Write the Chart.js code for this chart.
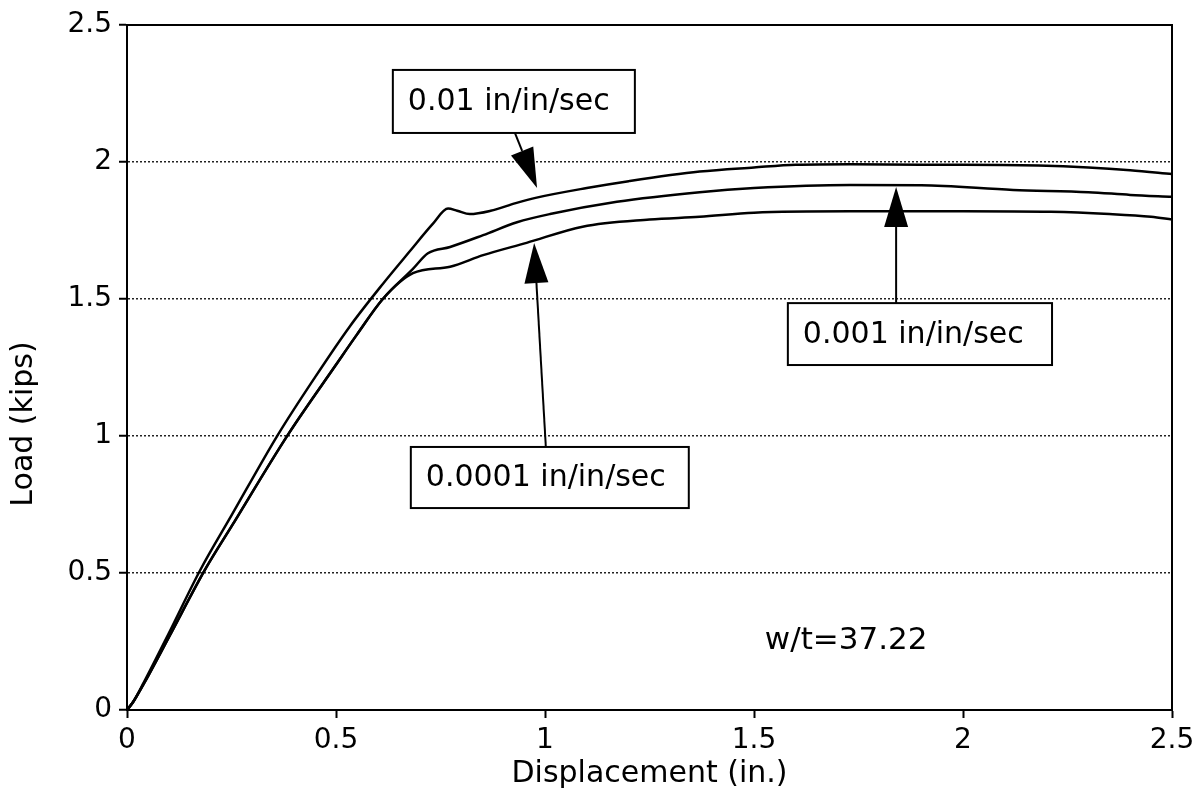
<!DOCTYPE html>
<html>
<head>
<meta charset="utf-8">
<script src="https://cdn.jsdelivr.net/npm/chart.js@4.4.0/dist/chart.umd.min.js"></script>
<style>
  html, body { margin: 0; padding: 0; background: #fff; }
  #wrap { width: 1204px; height: 802px; }
</style>
</head>
<body>
<div id="wrap"><canvas id="chart" width="1204" height="802"></canvas></div>
<script>
// strain rate 0.01 in/in/sec
const dispFast = [0, 0.015, 0.04, 0.1, 0.175, 0.25, 0.362, 0.45, 0.533, 0.612, 0.677, 0.732, 0.768, 0.79, 0.82, 0.87, 0.93, 0.98, 1.1, 1.2, 1.37, 1.5, 1.6, 1.73, 1.9, 2.0, 2.18, 2.3, 2.4, 2.5];
const loadFast = [0, 0.03, 0.1, 0.28, 0.51, 0.71, 1.007, 1.215, 1.40, 1.555, 1.675, 1.775, 1.83, 1.822, 1.81, 1.822, 1.85, 1.87, 1.905, 1.93, 1.965, 1.98, 1.99, 1.992, 1.99, 1.99, 1.987, 1.98, 1.97, 1.956];

// strain rate 0.001 in/in/sec
const dispMid = [0, 0.015, 0.04, 0.1, 0.187, 0.25, 0.386, 0.5, 0.55, 0.612, 0.684, 0.72, 0.773, 0.852, 0.933, 1.012, 1.172, 1.37, 1.5, 1.73, 1.9, 2.12, 2.3, 2.4, 2.5];
const loadMid = [0, 0.03, 0.095, 0.265, 0.513, 0.67, 1.007, 1.26, 1.37, 1.5, 1.61, 1.667, 1.69, 1.733, 1.78, 1.81, 1.855, 1.89, 1.905, 1.916, 1.915, 1.898, 1.89, 1.88, 1.873];

// strain rate 0.0001 in/in/sec
const dispSlow = [0, 0.015, 0.04, 0.1, 0.187, 0.25, 0.386, 0.5, 0.55, 0.612, 0.684, 0.773, 0.852, 0.956, 1.09, 1.25, 1.37, 1.5, 1.73, 1.9, 2.0, 2.21, 2.35, 2.45, 2.5];
const loadSlow = [0, 0.03, 0.095, 0.265, 0.513, 0.67, 1.007, 1.26, 1.37, 1.5, 1.594, 1.618, 1.66, 1.705, 1.764, 1.79, 1.80, 1.815, 1.82, 1.82, 1.82, 1.818, 1.81, 1.80, 1.79];

const xTicks = [0, 0.5, 1, 1.5, 2, 2.5];
const yTicks = [0, 0.5, 1, 1.5, 2, 2.5];

// callouts, placed in data units
const notes = [
  { text: '0.01 in/in/sec', box: [0.636, 2.336, 1.215, 2.106], from: [0.928, 2.106], to: [0.981, 1.905] },
  { text: '0.001 in/in/sec', box: [1.581, 1.485, 2.213, 1.259], from: [1.840, 1.485], to: [1.840, 1.909] },
  { text: '0.0001 in/in/sec', box: [0.679, 0.960, 1.344, 0.737], from: [1.002, 0.960], to: [0.974, 1.704] }
];
const ratioNote = { text: 'w/t=37.22', at: [1.526, 0.252] };

const FONT = 'DejaVu Sans';
Chart.defaults.font.family = FONT;
Chart.defaults.color = '#000';

function toPoints(xs, ys) {
  return xs.map((x, i) => ({ x: x, y: ys[i] }));
}

function series(label, xs, ys) {
  return {
    label: label,
    data: toPoints(xs, ys),
    borderColor: '#000',
    borderWidth: 2.5,
    pointRadius: 0,
    fill: false,
    cubicInterpolationMode: 'monotone'
  };
}

// frame, callout boxes with arrows, free text
const frameAndNotes = {
  id: 'frameAndNotes',
  afterDraw(chart) {
    const { ctx, chartArea: a, scales: { x, y } } = chart;
    ctx.save();
    ctx.strokeStyle = '#000';
    ctx.fillStyle = '#000';
    ctx.lineWidth = 2;
    ctx.setLineDash([]);
    ctx.strokeRect(a.left, a.top, a.right - a.left, a.bottom - a.top);

    notes.forEach(n => {
      const l = x.getPixelForValue(n.box[0]);
      const t = y.getPixelForValue(n.box[1]);
      const r = x.getPixelForValue(n.box[2]);
      const b = y.getPixelForValue(n.box[3]);
      ctx.fillStyle = '#fff';
      ctx.fillRect(l, t, r - l, b - t);
      ctx.lineWidth = 2;
      ctx.strokeRect(l, t, r - l, b - t);
      ctx.fillStyle = '#000';
      ctx.font = '30px "' + FONT + '"';
      ctx.textAlign = 'left';
      ctx.textBaseline = 'middle';
      ctx.fillText(n.text, l + 15, (t + b) / 2 + 1);

      // arrow
      const x1 = x.getPixelForValue(n.from[0]), y1 = y.getPixelForValue(n.from[1]);
      const x2 = x.getPixelForValue(n.to[0]), y2 = y.getPixelForValue(n.to[1]);
      const ang = Math.atan2(y2 - y1, x2 - x1);
      const headLen = 40, headHalf = 12;
      const bx = x2 - headLen * Math.cos(ang), by = y2 - headLen * Math.sin(ang);
      ctx.beginPath();
      ctx.moveTo(x1, y1);
      ctx.lineTo(bx, by);
      ctx.stroke();
      ctx.beginPath();
      ctx.moveTo(x2, y2);
      ctx.lineTo(bx + headHalf * Math.sin(ang), by - headHalf * Math.cos(ang));
      ctx.lineTo(bx - headHalf * Math.sin(ang), by + headHalf * Math.cos(ang));
      ctx.closePath();
      ctx.fill();
    });

    ctx.font = '31px "' + FONT + '"';
    ctx.textAlign = 'left';
    ctx.textBaseline = 'middle';
    ctx.fillText(ratioNote.text, x.getPixelForValue(ratioNote.at[0]), y.getPixelForValue(ratioNote.at[1]));

    // y axis title sits a bit below the axis centre in the original
    ctx.save();
    ctx.translate(24, 424);
    ctx.rotate(-Math.PI / 2);
    ctx.font = '30px "' + FONT + '"';
    ctx.textAlign = 'center';
    ctx.textBaseline = 'middle';
    ctx.fillText('Load (kips)', 0, 0);
    ctx.restore();

    ctx.restore();
  }
};

new Chart(document.getElementById('chart'), {
  type: 'line',
  data: {
    datasets: [
      series('0.01 in/in/sec', dispFast, loadFast),
      series('0.001 in/in/sec', dispMid, loadMid),
      series('0.0001 in/in/sec', dispSlow, loadSlow)
    ]
  },
  options: {
    responsive: false,
    devicePixelRatio: 1,
    animation: false,
    layout: { padding: { left: 0, right: 32, top: 25, bottom: 0 } },
    plugins: {
      legend: { display: false },
      tooltip: { enabled: false }
    },
    scales: {
      x: {
        type: 'linear',
        min: xTicks[0],
        max: xTicks[xTicks.length - 1],
        afterBuildTicks: s => { s.ticks = xTicks.map(v => ({ value: v })); },
        ticks: { padding: 6, color: '#000', font: { size: 28 }, maxRotation: 0, autoSkip: false, callback: v => String(v) },
        grid: { drawOnChartArea: false, tickLength: 8, tickWidth: 2, tickColor: '#000' },
        border: { color: '#000', width: 2 },
        title: { display: true, text: 'Displacement (in.)', color: '#000', font: { size: 30 }, padding: { top: 0, bottom: 10 } },
        afterFit: s => { s.height = 92; }
      },
      y: {
        type: 'linear',
        min: yTicks[0],
        max: yTicks[yTicks.length - 1],
        afterBuildTicks: s => { s.ticks = yTicks.map(v => ({ value: v })); },
        ticks: { padding: 7, color: '#000', font: { size: 28 }, autoSkip: false, callback: v => String(v) },
        grid: { color: '#222', lineWidth: 1.5, tickLength: 8, tickWidth: 2, tickColor: '#000' },
        border: { color: '#000', width: 2, dash: [2, 2] },
        afterFit: s => { s.width = 127; }
      }
    }
  },
  plugins: [frameAndNotes]
});
</script>
</body>
</html>
